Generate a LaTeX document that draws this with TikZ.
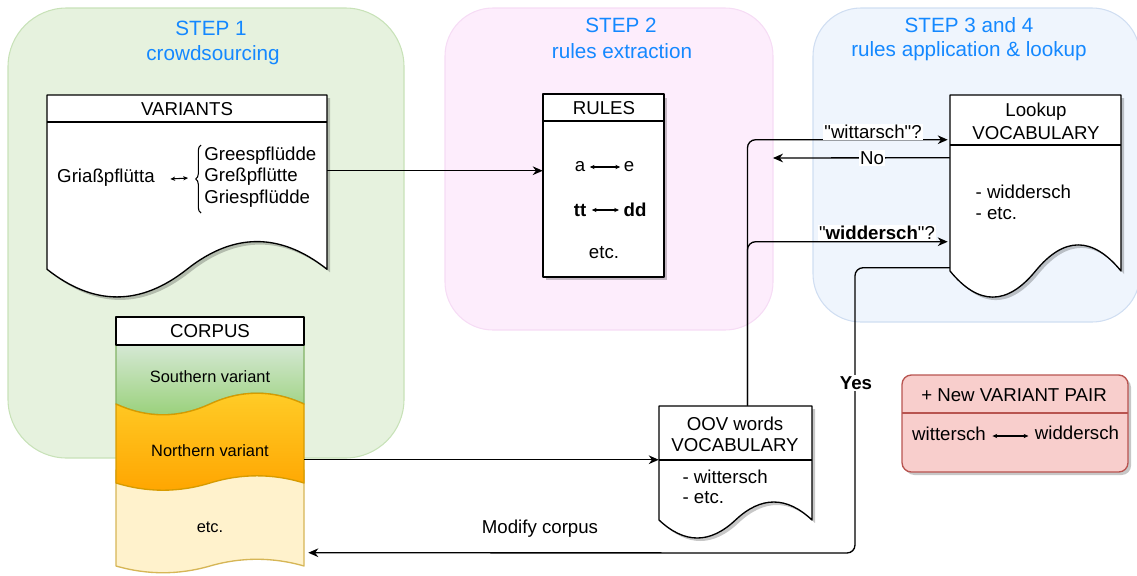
\documentclass[tikz,border=0pt]{standalone}
\usepackage{fontspec}
\setmainfont{Liberation Sans}[Ligatures=TeXOff]
\usetikzlibrary{arrows.meta,calc,fit,decorations.pathreplacing}

\definecolor{gG}{RGB}{230,242,222}
\definecolor{gGd}{RGB}{200,226,184}
\definecolor{gP}{RGB}{253,237,252}
\definecolor{gPd}{RGB}{246,220,245}
\definecolor{gB}{RGB}{239,245,253}
\definecolor{gBd}{RGB}{208,222,242}
\definecolor{titleblue}{RGB}{20,136,255}
\definecolor{grnT}{RGB}{213,232,212}
\definecolor{grnB}{RGB}{151,208,119}
\definecolor{grnD}{RGB}{130,179,102}
\definecolor{orT}{RGB}{255,205,40}
\definecolor{orB}{RGB}{255,165,0}
\definecolor{orD}{RGB}{215,155,0}
\definecolor{ylF}{RGB}{255,242,204}
\definecolor{ylD}{RGB}{214,182,86}
\definecolor{rdF}{RGB}{248,206,204}
\definecolor{rdD}{RGB}{184,84,80}

% document shape: x0, y0, width, baseline of wave, wave size, style
\newcommand{\docwave}[6]{%
  \path[#6] (#1,#2) -- ({#1+#3},#2) -- ({#1+#3},#4)
    .. controls ({#1+5*#3/6},{#4-0.6*#5}) and ({#1+2*#3/3},{#4-0.6*#5}) .. ({#1+#3/2},#4)
    .. controls ({#1+#3/3},{#4+0.6*#5}) and ({#1+#3/6},{#4+0.6*#5}) .. (#1,#4) -- cycle;}

\tikzset{
  txt/.style={font=\fontsize{14}{16.1}\selectfont, inner sep=1pt},
  smalltxt/.style={font=\fontsize{12.3}{15}\selectfont, inner sep=1pt},
  steptitle/.style={font=\fontsize{15.5}{18}\selectfont, text=titleblue, inner sep=1pt},
  boxline/.style={draw=black, line width=1pt},
  conn/.style={line width=1pt, rounded corners=6pt},
  arr/.style={conn, -{Stealth[length=7.5pt,width=6.5pt,inset=2.4pt]}},
  dbl/.style={line width=0.8pt, {Stealth[length=3.6pt,width=3.2pt]}-{Stealth[length=3.6pt,width=3.2pt]}},
  elbl/.style={txt, fill=white, inner sep=1pt},
  shadowfill/.style={fill=black, opacity=0.22, draw=none},
}

\begin{document}
\begin{tikzpicture}[x=0.75pt,y=-0.75pt, line join=round]
\useasboundingbox (0,0) rectangle (1137,575);

% group backgrounds
\draw[fill=gG, draw=gGd, line width=0.8pt, rounded corners=44pt] (8,8) rectangle (404,458);
\draw[fill=gP, draw=gPd, line width=0.8pt, rounded corners=36pt] (445,8) rectangle (773,330);
\draw[fill=gB, draw=gBd, line width=0.8pt, rounded corners=36pt] (813,8) rectangle (1140,322);

\node[steptitle] (t1a) at (211,28) {STEP 1};
\node[steptitle] (t1b) at (213,55) {crowdsourcing};
\node[steptitle] (t2a) at (621,25) {STEP 2};
\node[steptitle] (t2b) at (622,51) {rules extraction};
\node[steptitle] (t3a) at (969,25) {STEP 3 and 4};
\node[steptitle] (t3b) at (969,51) {rules application \& lookup};

% ---------- VARIANTS document
\docwave{50}{98}{280}{272.25}{61.5}{shadowfill}
\docwave{47}{95}{280}{269.25}{61.5}{boxline, fill=white}
\draw[boxline] (47,122) -- (327,122);
\node[fit={(47,95) (327,300)}, inner sep=0pt] (variants) {};
\node[txt] (varh) at (187,109) {VARIANTS};
\node[txt] (gria) at (106,178) {Griaßpflütta};
\node[txt, anchor=west, align=left, inner sep=0pt] (alts) at (204,177) {Greespflüdde\\Greßpflütte\\Griespflüdde};
\draw[line width=0.8pt, decorate, decoration={brace, amplitude=4pt}] ($(alts.west)+(-3,36)$) -- ($(alts.west)+(-3,-32)$);
\draw[dbl] ($(gria.east)+(14,1)$) -- ($(alts.west)+(-16,1)$);

% ---------- CORPUS
\docwave{116}{470}{188}{566}{15}{fill=ylF, draw=ylD, line width=1pt}
\docwave{116}{345}{188}{404}{24}{top color=grnT, bottom color=grnB, draw=grnD, line width=1pt}
\path[top color=orT, bottom color=orB, draw=orD, line width=1pt]
  (116,404) .. controls ({116+188/6},{404+0.6*24}) and ({116+188/3},{404+0.6*24}) .. (210,404)
  .. controls ({116+2*188/3},{404-0.6*24}) and ({116+5*188/6},{404-0.6*24}) .. (304,404)
  -- (304,483) .. controls ({116+5*188/6},{483-0.6*16}) and ({116+2*188/3},{483-0.6*16}) .. (210,483)
  .. controls ({116+188/3},{483+0.6*16}) and ({116+188/6},{483+0.6*16}) .. (116,483) -- cycle;
\draw[boxline, fill=white] (116,317) rectangle (304,345);
\node[fit={(116,317) (304,573)}, inner sep=0pt] (corpus) {};
\node[txt] (corh) at (210,331) {CORPUS};
\node[smalltxt] (south) at (210,377) {Southern variant};
\node[smalltxt] (north) at (210,451) {Northern variant};
\node[smalltxt] (cetc) at (210,527) {etc.};

% ---------- RULES
\fill[shadowfill] (546,98) rectangle (667,280);
\draw[boxline, fill=white] (543,94) rectangle (664,277);
\draw[boxline] (543,121) -- (664,121);
\node[fit={(543,94) (664,277)}, inner sep=0pt] (rules) {};
\node[txt] (rulh) at (604,108) {RULES};
\node[txt] (ra) at (580,167) {a};
\node[txt] (re) at (629,167) {e};
\draw[dbl] ($(ra.east)+(3,0)$) -- ($(re.west)+(-2,0)$);
\node[txt, font=\fontsize{14}{16.1}\selectfont\bfseries] (rtt) at (580,210) {tt};
\node[txt, font=\fontsize{14}{16.1}\selectfont\bfseries] (rdd) at (635,210) {dd};
\draw[dbl] ($(rtt.east)+(4,0)$) -- ($(rdd.west)+(-3,0)$);
\node[txt] (retc) at (604,253) {etc.};

% ---------- Lookup VOCABULARY
\docwave{953}{98}{171}{274}{58}{shadowfill}
\docwave{950}{95}{171}{271}{58}{boxline, fill=white}
\draw[boxline] (950,145) -- (1121,145);
\node[fit={(950,95) (1121,300)}, inner sep=0pt] (lookup) {};
\node[txt] (lkh1) at (1036,112) {Lookup};
\node[txt] (lkh2) at (1036,133) {VOCABULARY};
\node[txt, anchor=west] (lk1) at (974,192) {- widdersch};
\node[txt, anchor=west] (lk2) at (974,214) {- etc.};

% ---------- OOV words VOCABULARY
\docwave{662}{409}{153}{523}{40}{shadowfill}
\docwave{659}{406}{153}{520}{40}{boxline, fill=white}
\draw[boxline] (659,460) -- (812,460);
\node[fit={(659,406) (812,540)}, inner sep=0pt] (oov) {};
\node[txt] (oovh1) at (735,424) {OOV words};
\node[txt] (oovh2) at (735,445) {VOCABULARY};
\node[txt, anchor=west] (oov1) at (681,477) {- wittersch};
\node[txt, anchor=west] (oov2) at (681,498) {- etc.};

% ---------- New VARIANT PAIR
\fill[shadowfill, rounded corners=7pt] (905,378) rectangle (1131,475);
\draw[fill=rdF, draw=rdD, line width=1pt, rounded corners=7pt] (902,375) rectangle (1128,472);
\draw[draw=rdD, line width=1pt] (902,413) -- (1128,413);
\node[fit={(902,375) (1128,472)}, inner sep=0pt] (newpair) {};
\node[txt] (nph) at (1014,395) {+ New VARIANT PAIR};
\node[txt] (w1) at (949,434) {wittersch};
\node[txt] (w2) at (1077,433) {widdersch};
\draw[dbl] ($(w1.east)+(5,2)$) -- ($(w2.west)+(-5,3)$);

% ---------- connectors
\coordinate (noend) at (773,158);
\draw[arr] ($(variants.north east)+(0,76)$) -- ($(rules.north west)+(0,77)$);
\draw[arr] ($(corpus.north east)+(0,143)$) -- ($(oov.north west)+(0,54)$);
\draw[arr] ($(oov.north)+(12,0)$) |- ($(lookup.north west)+(-2,45)$);
\draw[arr] ($(oov.north)+(12,0)$) |- ($(lookup.north west)+(-2,147)$);
\draw[arr] ($(lookup.north west)+(0,63)$) -- (noend);
\draw[arr] ($(lookup.north west)+(0,173)$) -| (855,553) -- ($(corpus.north east)+(4,236)$);

\node[elbl] (qwit) at (873,132) {"wittarsch"?};
\node[elbl] (qwid) at (877,233) {"\textbf{widdersch}"?};
\node[elbl] (no) at (872,158) {No};
\node[elbl, font=\fontsize{14}{16.1}\selectfont\bfseries] (yes) at (856,383) {Yes};
\node[txt] (modify) at (540,529) {Modify corpus};
\end{tikzpicture}
\end{document}
